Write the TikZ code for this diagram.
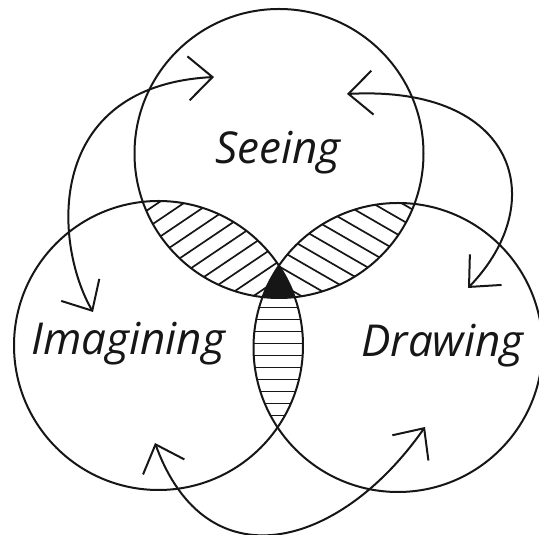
\documentclass[tikz,border=0pt]{standalone}
\usepackage{fontspec}
\newfontfamily\vennfont{Open Sans}
\usepackage{tikz}
\usetikzlibrary{
  arrows.meta,
  calc
}
\definecolor{ink}{RGB}{22,22,22}
\newcommand{\circr}{144.5}
\newcommand{\hatchlens}[5]{%
  \begin{scope}
    \clip (#1) circle[radius=\circr];
    \clip (#2) circle[radius=\circr];
    \begin{scope}[shift={($(#1)!0.5!(#2)$)},rotate=#3]
      \foreach \k in {-16,...,16}
        \draw[hatch] (-200,#5*\k+#4) -- (200,#5*\k+#4);
    \end{scope}
  \end{scope}%
}

\begin{document}
\begin{tikzpicture}[x=1pt,y=1pt,
  ring/.style={draw=ink,line width=2pt},
  hatch/.style={draw=ink,line width=1.7pt},
  roundtrip/.style={draw=ink,line width=2pt,<->,>={Straight Barb[length=24pt,width=44pt]}},
  lbl/.style={font=\vennfont\itshape\fontsize{44}{50}\selectfont,text=ink,inner sep=0pt,anchor=base}]
  \useasboundingbox (0,0) rectangle (539,535);
  \coordinate (see) at (279,381.5);
  \coordinate (ima) at (158.5,189.5);
  \coordinate (dra) at (398,187.5);
  \hatchlens{see}{ima}{34}{0}{14.5}
  \hatchlens{see}{dra}{-30}{0}{14.5}
  \hatchlens{ima}{dra}{0}{3}{12}
  \begin{scope}
    \clip (see) circle[radius=\circr];
    \clip (ima) circle[radius=\circr];
    \fill[ink] (dra) circle[radius=\circr];
  \end{scope}
  \draw[ring] (see) circle[radius=\circr];
  \draw[ring] (ima) circle[radius=\circr];
  \draw[ring] (dra) circle[radius=\circr];
  \node[lbl] (seeing) at (278,371.7) {Seeing};
  \node[lbl] (imagining) at (128.3,180) {Imagining};
  \node[lbl] (drawing) at (442.5,178.3) {Drawing};
  \coordinate (s1) at (214,458);
  \coordinate (i1) at (93,223);
  \coordinate (s2) at (347,441);
  \coordinate (d1) at (468,247);
  \coordinate (i2) at (155,92);
  \coordinate (d2) at (425,108);
  \draw[roundtrip] (s1) .. controls +(183:170) and +(120:80) .. (i1);
  \draw[roundtrip] (s2) .. controls +(3:170) and +(46:120) .. (d1);
  \draw[roundtrip] (i2) .. controls +(290:150) and +(235:150) .. (d2);
\end{tikzpicture}
\end{document}
